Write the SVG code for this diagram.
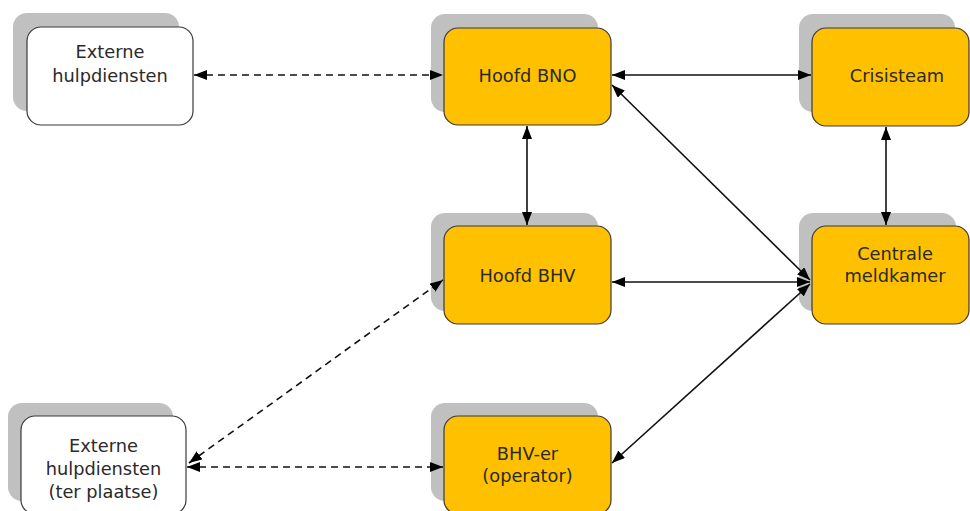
<svg xmlns="http://www.w3.org/2000/svg" width="970" height="511" viewBox="0 0 970 511">
<style>
.shadow{fill:#c0c0c0;stroke:none}
.box{stroke:#3a3a3a;stroke-width:1.2}
.ext{fill:#ffffff}
.org{fill:#ffc000}
.lbl{font-family:"DejaVu Sans","Verdana",sans-serif;font-size:17.8px;fill:#2a2a2a;text-anchor:middle}
.ln{fill:none;stroke:#111;stroke-width:1.6}
.dash{stroke-dasharray:7 5}
</style>
<defs>
<marker id="ah" viewBox="0 0 13 10" refX="13" refY="5" markerWidth="13" markerHeight="10" markerUnits="userSpaceOnUse" orient="auto-start-reverse">
<path d="M0,0 L13,5 L0,10 z" fill="#000"/>
</marker>
</defs>
<rect width="970" height="511" fill="#ffffff"/>
<g id="ext-top">
<rect class="shadow" x="13" y="13" width="166" height="98" rx="14"/>
<rect class="box ext" x="27" y="27" width="166" height="98" rx="14"/>
<text class="lbl" x="110" y="58">Externe</text>
<text class="lbl" x="110" y="82">hulpdiensten</text>
</g>
<g id="hoofd-bno">
<rect class="shadow" x="431" y="14" width="167" height="98" rx="14"/>
<rect class="box org" x="444" y="28" width="167" height="97" rx="14"/>
<text class="lbl" x="527.5" y="82">Hoofd BNO</text>
</g>
<g id="crisisteam">
<rect class="shadow" x="799" y="14" width="156" height="98" rx="14"/>
<rect class="box org" x="812" y="28" width="157" height="98" rx="14"/>
<text class="lbl" x="897" y="82">Crisisteam</text>
</g>
<g id="hoofd-bhv">
<rect class="shadow" x="431" y="213" width="167" height="98" rx="14"/>
<rect class="box org" x="444" y="226" width="167" height="98" rx="14"/>
<text class="lbl" x="527.5" y="282">Hoofd BHV</text>
</g>
<g id="centrale-meldkamer">
<rect class="shadow" x="799" y="213" width="157" height="98" rx="14"/>
<rect class="box org" x="812" y="226" width="157" height="98" rx="14"/>
<text class="lbl" x="895" y="260">Centrale</text>
<text class="lbl" x="895" y="282">meldkamer</text>
</g>
<g id="bhv-er">
<rect class="shadow" x="431" y="403" width="167" height="98" rx="14"/>
<rect class="box org" x="444" y="416" width="167" height="98" rx="14"/>
<text class="lbl" x="527.5" y="460">BHV-er</text>
<text class="lbl" x="527.5" y="482">(operator)</text>
</g>
<g id="ext-bottom">
<rect class="shadow" x="8" y="403" width="165" height="98" rx="14"/>
<rect class="box ext" x="21" y="416" width="165" height="98" rx="14"/>
<text class="lbl" x="103.5" y="452">Externe</text>
<text class="lbl" x="103.5" y="475">hulpdiensten</text>
<text class="lbl" x="103.5" y="498">(ter plaatse)</text>
</g>
<g id="connectors">
<line class="ln dash" x1="194" y1="75" x2="443" y2="75" marker-start="url(#ah)" marker-end="url(#ah)"/>
<line class="ln" x1="612" y1="75" x2="811" y2="75" marker-start="url(#ah)" marker-end="url(#ah)"/>
<line class="ln" x1="527" y1="126" x2="527" y2="225" marker-start="url(#ah)" marker-end="url(#ah)"/>
<line class="ln" x1="886" y1="127" x2="886" y2="225" marker-start="url(#ah)" marker-end="url(#ah)"/>
<line class="ln" x1="612" y1="85" x2="810" y2="280" marker-start="url(#ah)" marker-end="url(#ah)"/>
<line class="ln" x1="612" y1="282" x2="810" y2="282" marker-start="url(#ah)" marker-end="url(#ah)"/>
<line class="ln" x1="612" y1="463" x2="810" y2="284" marker-start="url(#ah)" marker-end="url(#ah)"/>
<line class="ln dash" x1="189" y1="463" x2="443" y2="280" marker-start="url(#ah)" marker-end="url(#ah)"/>
<line class="ln dash" x1="187" y1="467" x2="443" y2="467" marker-start="url(#ah)" marker-end="url(#ah)"/>
</g>
</svg>
